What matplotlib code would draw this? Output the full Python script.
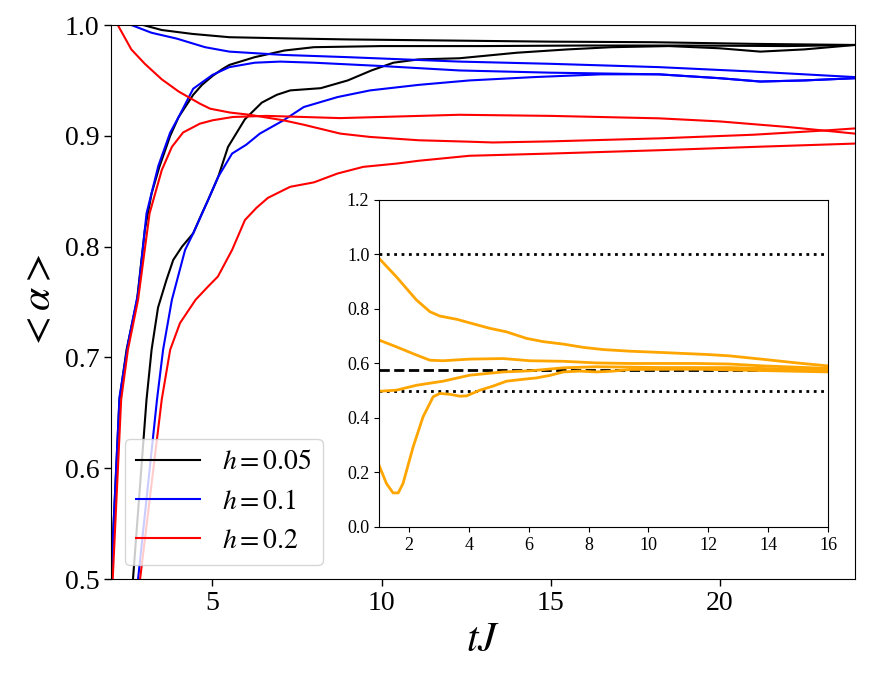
import numpy as np
import matplotlib
matplotlib.use("Agg")
import matplotlib.pyplot as plt

plt.rcParams['font.family'] = ['Liberation Serif', 'DejaVu Serif']
plt.rcParams['mathtext.fontset'] = 'stix'

# ---- main panel data (tJ, <alpha>) ----
b1_t = [2.4, 2.95, 3.5, 4.4, 5.5, 7.1, 9.0, 12.0, 15.0, 18.0, 21.0, 24.0]
b1_y = [1.006, 1.0, 0.9955, 0.992, 0.989, 0.988, 0.987, 0.986, 0.985, 0.9845, 0.983, 0.982]

b2_t = [2.0, 2.25, 2.46, 2.77, 3.0, 3.2, 3.43, 3.75, 4.0, 4.43, 4.69, 5.0, 5.28, 5.5, 6.25, 7.13, 8.0, 10.0, 13.0, 16.0, 19.0, 22.0, 24.0]
b2_y = [0.5, 0.662, 0.707, 0.752, 0.815, 0.848, 0.872, 0.900, 0.917, 0.937, 0.946, 0.954, 0.960, 0.964, 0.971, 0.977, 0.980, 0.981, 0.981, 0.9815, 0.9815, 0.981, 0.982]

b3_t = [2.65, 3.05, 3.2, 3.39, 3.64, 3.84, 4.1, 4.43, 4.69, 4.87, 5.17, 5.46, 5.96, 6.46, 6.9, 7.3, 8.2, 9.0, 9.7, 10.35, 11.1, 12.3, 14.0, 15.5, 16.8, 18.5, 20.0, 21.2, 22.5, 24.0]
b3_y = [0.5, 0.662, 0.707, 0.745, 0.770, 0.788, 0.800, 0.812, 0.830, 0.842, 0.863, 0.890, 0.915, 0.930, 0.937, 0.941, 0.943, 0.950, 0.959, 0.966, 0.969, 0.970, 0.975, 0.978, 0.980, 0.981, 0.979, 0.976, 0.978, 0.982]

bl1_t = [2.3, 2.6, 3.2, 3.95, 4.78, 5.5, 7.1, 9.0, 12.3, 15.0, 18.2, 21.0, 24.0]
bl1_y = [1.008, 1.0, 0.993, 0.9877, 0.980, 0.976, 0.973, 0.971, 0.967, 0.965, 0.962, 0.958, 0.953]

bl2_t = [2.0, 2.25, 2.5, 2.8, 3.05, 3.4, 3.75, 4.0, 4.43, 5.0, 5.5, 6.25, 7.0, 8.0, 10.0, 12.3, 15.0, 18.2, 20.0, 21.2, 22.5, 24.0]
bl2_y = [0.5, 0.664, 0.712, 0.758, 0.830, 0.873, 0.903, 0.917, 0.9425, 0.955, 0.962, 0.966, 0.967, 0.966, 0.963, 0.959, 0.957, 0.9555, 0.952, 0.949, 0.950, 0.952]

bl3_t = [2.8, 3.36, 3.54, 3.8, 4.19, 4.43, 4.87, 5.17, 5.58, 6.0, 6.4, 7.1, 7.7, 8.7, 9.66, 11.1, 12.6, 14.5, 16.5, 18.2, 20.0, 21.2, 22.5, 24.0]
bl3_y = [0.5, 0.662, 0.707, 0.752, 0.797, 0.812, 0.842, 0.863, 0.884, 0.892, 0.902, 0.914, 0.926, 0.935, 0.941, 0.946, 0.950, 0.953, 0.9555, 0.9555, 0.952, 0.949, 0.950, 0.952]

r1_t = [2.0, 2.2, 2.6, 3.0, 3.5, 4.0, 4.63, 4.93, 5.52, 6.1, 7.1, 7.7, 8.78, 9.66, 11.1, 12.6, 13.3, 15.0, 18.2, 21.0, 23.2, 24.0]
r1_y = [1.015, 1.0, 0.978, 0.965, 0.951, 0.940, 0.929, 0.9245, 0.921, 0.919, 0.914, 0.910, 0.902, 0.899, 0.896, 0.8947, 0.894, 0.895, 0.8977, 0.901, 0.905, 0.9067]

r2_t = [2.05, 2.3, 2.5, 2.8, 3.14, 3.5, 3.8, 4.13, 4.63, 5.0, 5.6, 6.6, 8.78, 12.3, 15.0, 18.2, 20.0, 22.0, 24.0]
r2_y = [0.5, 0.662, 0.707, 0.752, 0.830, 0.869, 0.890, 0.903, 0.911, 0.914, 0.917, 0.918, 0.916, 0.919, 0.918, 0.9158, 0.913, 0.908, 0.902]

r3_t = [2.86, 3.5, 3.75, 4.04, 4.5, 4.87, 5.16, 5.58, 5.96, 6.3, 6.64, 7.1, 7.3, 8.0, 8.7, 9.46, 10.46, 11.1, 12.6, 15.0, 18.2, 21.0, 24.0]
r3_y = [0.5, 0.662, 0.707, 0.731, 0.752, 0.764, 0.773, 0.797, 0.824, 0.835, 0.844, 0.851, 0.854, 0.858, 0.866, 0.872, 0.875, 0.8775, 0.882, 0.884, 0.887, 0.890, 0.893]

# ---- inset data ----
o1_t = [1.0, 1.58, 2.25, 2.7, 3.03, 3.6, 4.03, 4.7, 5.26, 5.93, 6.49, 7.16, 7.83, 8.49, 9.39, 10.5, 11.95, 12.7, 13.85, 14.96, 16.0]
o1_y = [0.986, 0.918, 0.833, 0.790, 0.774, 0.762, 0.749, 0.729, 0.716, 0.692, 0.680, 0.671, 0.659, 0.651, 0.645, 0.640, 0.633, 0.628, 0.615, 0.602, 0.591]

o2_t = [1.0, 1.58, 2.25, 2.7, 3.14, 4.03, 5.15, 6.04, 7.16, 8.27, 9.39, 11.6, 12.7, 13.85, 16.0]
o2_y = [0.686, 0.661, 0.631, 0.612, 0.610, 0.616, 0.618, 0.610, 0.608, 0.602, 0.600, 0.600, 0.598, 0.591, 0.582]

o3_t = [1.0, 1.58, 2.25, 3.14, 4.03, 5.15, 6.04, 7.16, 8.27, 10.5, 12.7, 16.0]
o3_y = [0.498, 0.502, 0.520, 0.535, 0.557, 0.569, 0.573, 0.584, 0.588, 0.585, 0.585, 0.575]

o4_t = [1.0, 1.25, 1.47, 1.64, 1.8, 2.14, 2.47, 2.81, 3.03, 3.36, 3.7, 3.92, 4.37, 4.81, 5.26, 5.82, 6.26, 6.7, 7.16, 7.71, 8.27, 8.83, 9.39, 11.6, 16.0]
o4_y = [0.2265, 0.159, 0.125, 0.125, 0.159, 0.294, 0.404, 0.478, 0.490, 0.487, 0.480, 0.481, 0.502, 0.517, 0.535, 0.542, 0.547, 0.556, 0.569, 0.572, 0.569, 0.572, 0.578, 0.579, 0.569]

ref_upper = 1.0
ref_lower = 0.5
ref_mid = 1 / np.sqrt(3)

labels = [r'$h=0.05$', r'$h=0.1$', r'$h=0.2$']

fig = plt.figure(figsize=(8.79, 6.82), dpi=100)
ax = fig.add_axes([0.1263, 0.151, 0.8464, 0.8123])

lw = 1.5
ax.plot(b1_t, b1_y, color='k', lw=lw, label=labels[0])
ax.plot(b2_t, b2_y, color='k', lw=lw)
ax.plot(b3_t, b3_y, color='k', lw=lw)
ax.plot(bl1_t, bl1_y, color='b', lw=lw, label=labels[1])
ax.plot(bl2_t, bl2_y, color='b', lw=lw)
ax.plot(bl3_t, bl3_y, color='b', lw=lw)
ax.plot(r1_t, r1_y, color='r', lw=lw, label=labels[2])
ax.plot(r2_t, r2_y, color='r', lw=lw)
ax.plot(r3_t, r3_y, color='r', lw=lw)

ax.set_xlim(2, 24)
ax.set_ylim(0.5, 1.0)
ax.set_xticks([5, 10, 15, 20])
ax.set_yticks([0.5, 0.6, 0.7, 0.8, 0.9, 1.0])
ax.tick_params(labelsize=20, length=5, width=1)
ax.set_xlabel(r'$tJ$', fontsize=30)
ax.set_ylabel(r'$<\alpha>$', fontsize=30)
ax.legend(loc='lower left', fontsize=20, handlelength=2.3)

ins = fig.add_axes([0.4312, 0.2273, 0.5108, 0.4795])
ins.axhline(ref_upper, color='k', ls=':', lw=2)
ins.axhline(ref_lower, color='k', ls=':', lw=2)
ins.axhline(ref_mid, color='k', ls='--', lw=2)
for t, y in [(o1_t, o1_y), (o2_t, o2_y), (o3_t, o3_y), (o4_t, o4_y)]:
    ins.plot(t, y, color='orange', lw=2)
ins.set_xlim(1, 16)
ins.set_ylim(0, 1.2)
ins.set_xticks([2, 4, 6, 8, 10, 12, 14, 16])
ins.set_yticks([0.0, 0.2, 0.4, 0.6, 0.8, 1.0, 1.2])
ins.tick_params(labelsize=13)

fig.savefig('out.png', dpi=100)
